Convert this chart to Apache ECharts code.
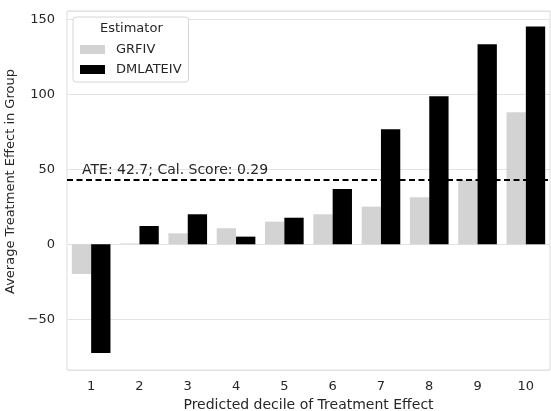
<!DOCTYPE html>
<html>
<head>
<meta charset="utf-8">
<script src="https://cdn.jsdelivr.net/npm/echarts@6/dist/echarts.min.js"></script>
<style>
  html, body { margin: 0; padding: 0; background: #fff; }
  #chart { width: 551px; height: 411px; }
</style>
</head>
<body>
<div id="chart"></div>
<script>
// decile groups and the estimates
const deciles = ['1', '2', '3', '4', '5', '6', '7', '8', '9', '10'];
const grfiv = [-19.8, 0.5, 7.3, 10.7, 15.1, 20, 25.1, 31.3, 42.9, 88];
const dmlateiv = [-72.5, 12.2, 20, 5.1, 17.7, 36.9, 76.7, 98.7, 133.3, 145.1];
const ate = 42.7;
const calScore = 0.29;
const yRange = [-83.8, 155.5];

window.onload = function () {
    const chart = echarts.init(document.getElementById('chart'));
    const font = 'DejaVu Sans';
    const ink = '#262626';

    const option = {
        animation: false,
        textStyle: { fontFamily: font },
        title: {
            text: 'Estimator',
            left: 100,
            top: 22,
            padding: 0,
            textStyle: { fontFamily: font, fontSize: 13, fontWeight: 'normal', color: ink }
        },
        legend: {
            orient: 'vertical',
            left: 73,
            top: 17,
            width: 104,
            padding: [26, 7, 6, 7],
            itemGap: 7,
            itemWidth: 25,
            itemHeight: 9,
            borderColor: '#d6d6d6',
            borderWidth: 1,
            borderRadius: 3,
            backgroundColor: '#fff',
            icon: 'rect',
            textStyle: { fontFamily: font, fontSize: 13, color: ink, padding: [0, 0, 0, 6] },
            data: ['GRFIV', 'DMLATEIV']
        },
        grid: {
            left: 67,
            right: 1,
            top: 11,
            bottom: 41,
            outerBoundsMode: 'none',
            containLabel: false,
            show: true,
            borderColor: '#dcdcdc',
            borderWidth: 1
        },
        xAxis: {
            type: 'category',
            data: deciles,
            name: 'Predicted decile of Treatment Effect',
            nameLocation: 'middle',
            nameGap: 25,
            nameTextStyle: { fontFamily: font, fontSize: 14, color: ink },
            axisLine: { show: false },
            axisTick: { show: false },
            axisLabel: { margin: 10, fontFamily: font, fontSize: 13, color: ink },
            splitLine: { show: false }
        },
        yAxis: {
            type: 'value',
            min: yRange[0],
            max: yRange[1],
            splitNumber: 5,
            name: 'Average Treatment Effect in Group',
            nameLocation: 'middle',
            nameGap: 45,
            nameTextStyle: { fontFamily: font, fontSize: 13, color: ink, padding: [0, 0, 0, 18] },
            axisLine: { show: false },
            axisTick: { show: false },
            axisLabel: {
                margin: 12,
                fontFamily: font,
                fontSize: 13,
                color: ink,
                showMinLabel: false,
                showMaxLabel: false,
                formatter: function (v) {
                    return v % 50 === 0 ? String(v).replace('-', '\u2212') : '';
                }
            },
            splitLine: { lineStyle: { color: '#e3e3e3', width: 1 } }
        },
        series: [
            {
                name: 'GRFIV',
                type: 'bar',
                data: grfiv,
                barGap: '0%',
                barCategoryGap: '20%',
                itemStyle: { color: '#d3d3d3' }
            },
            {
                name: 'DMLATEIV',
                type: 'bar',
                data: dmlateiv,
                barGap: '0%',
                barCategoryGap: '20%',
                itemStyle: { color: '#000' },
                markLine: {
                    silent: true,
                    symbol: 'none',
                    data: [{ yAxis: ate }],
                    lineStyle: { color: '#000', type: [6, 3.5], width: 1.8 },
                    label: {
                        position: 'insideStartTop',
                        distance: [15, 3],
                        fontFamily: font,
                        fontSize: 14,
                        color: ink,
                        formatter: 'ATE: ' + ate + '; Cal. Score: ' + calScore
                    }
                }
            }
        ]
    };

    chart.setOption(option);
};
</script>
</body>
</html>
